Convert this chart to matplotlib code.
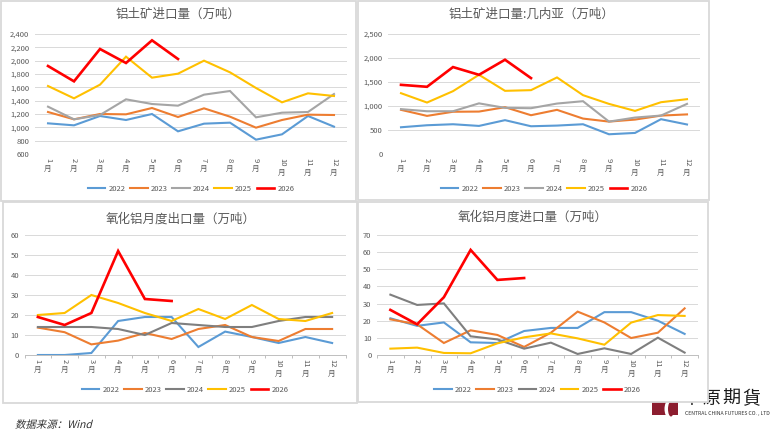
import numpy as np
import matplotlib
matplotlib.use("Agg")
import matplotlib.pyplot as plt
from matplotlib.patches import Rectangle, Polygon, Ellipse, PathPatch
from matplotlib.textpath import TextPath
from matplotlib.font_manager import FontProperties
from matplotlib.transforms import Affine2D
from matplotlib.ticker import FuncFormatter

plt.rcParams['font.family'] = ['Noto Sans CJK SC', 'DejaVu Sans']

# data
months = ["1", "2", "3", "4", "5", "6", "7", "8", "9", "10", "11", "12"]
years = ["2022", "2023", "2024", "2025", "2026"]

bauxite_2022 = [1060, 1030, 1170, 1110, 1200, 940, 1055, 1070, 815, 895, 1170, 1010]
bauxite_2023 = [1230, 1120, 1200, 1195, 1290, 1155, 1285, 1160, 995, 1110, 1190, 1185]
bauxite_2024 = [1310, 1120, 1185, 1420, 1350, 1325, 1490, 1545, 1150, 1220, 1230, 1500]
bauxite_2025 = [1620, 1435, 1640, 2060, 1745, 1805, 2000, 1825, 1590, 1375, 1510, 1470]
bauxite_2026 = [1920, 1690, 2175, 1965, 2305, 2025]

guinea_2022 = [557, 599, 620, 585, 705, 578, 592, 620, 411, 439, 725, 615]
guinea_2023 = [920, 794, 880, 884, 975, 808, 920, 738, 675, 717, 800, 825]
guinea_2024 = [935, 891, 891, 1055, 961, 954, 1051, 1100, 675, 759, 801, 1044]
guinea_2025 = [1267, 1072, 1309, 1650, 1316, 1330, 1595, 1226, 1044, 898, 1079, 1142]
guinea_2026 = [1441, 1400, 1811, 1650, 1964, 1581]

alu_exp_2022 = [0, 0, 1, 17, 19, 19, 4, 11.7, 9, 6, 9, 6]
alu_exp_2023 = [13.7, 11.4, 5.3, 7.2, 11, 8, 13, 15, 9, 7, 13, 13]
alu_exp_2024 = [14, 14, 14, 13, 10, 16, 15, 14, 14, 17, 19, 19]
alu_exp_2025 = [20, 21, 30, 26, 21, 17, 23, 18, 25, 18, 17, 21]
alu_exp_2026 = [19, 15, 21, 52, 28, 27]

alu_imp_2022 = [21.4, 17, 19, 7.4, 7, 14, 15.8, 15.8, 25, 25, 20, 12.3]
alu_imp_2023 = [20.8, 17.9, 7, 14.4, 11.7, 4.7, 13, 25.3, 19, 9.9, 13, 27.2]
alu_imp_2024 = [35.2, 29.2, 30.1, 10.9, 9.1, 3.7, 7.2, 0.6, 3.9, 0.6, 10.1, 1.4]
alu_imp_2025 = [3.7, 4.3, 1.2, 1.0, 6.8, 10.3, 12.6, 9.7, 6.0, 18.9, 23.3, 22.8]
alu_imp_2026 = [26.3, 17.9, 33.7, 61.3, 43.8, 44.9]

W, H = 774, 432
fig = plt.figure(figsize=(W / 100, H / 100), dpi=100)
fig.patch.set_facecolor("white")

txt_color = "#595959"
grid_color = "#D9D9D9"


def px_axes(x0, y0, x1, y1):
    # pixel box (top-left origin) -> figure axes
    return fig.add_axes([x0 / W, 1 - y1 / H, (x1 - x0) / W, (y1 - y0) / H])


def panel_box(x0, y0, x1, y1):
    r = Rectangle((x0 / W, 1 - y1 / H), (x1 - x0) / W, (y1 - y0) / H,
                  transform=fig.transFigure, facecolor="white",
                  edgecolor="#D9D9D9", linewidth=1.3, zorder=-1)
    fig.patches.append(r)


# logo (drawn under the panels, the first char is partly covered)
for k, ch in enumerate("中原期貨"):
    fig.text((691 + 20 * k) / W, 1 - 399 / H, ch, family=['Noto Sans CJK TC', 'DejaVu Sans'],
             fontsize=13, color="#1a1a1a", ha="center", va="center", zorder=-3)
fig.text(685 / W, 1 - 413 / H, "CENTRAL CHINA FUTURES CO. , LTD", fontsize=3.7,
         color="#333333", ha="left", va="center", zorder=-3)
logo = Polygon([(652 / W, 1 - 401 / H), (678 / W, 1 - 401 / H),
                (678 / W, 1 - 415 / H), (652 / W, 1 - 415 / H)],
               closed=True, transform=fig.transFigure, facecolor="#8C1D2F",
               edgecolor="none", zorder=-3)
fig.patches.append(logo)
cut = Ellipse((668 / W, 1 - 409 / H), 7 / W, 16 / H, transform=fig.transFigure,
              facecolor="white", edgecolor="none", zorder=-2)
fig.patches.append(cut)
cut2 = Ellipse((671 / W, 1 - 409 / H), 6 / W, 15 / H, transform=fig.transFigure,
               facecolor="#8C1D2F", edgecolor="none", zorder=-2)
fig.patches.append(cut2)

panel_box(0.5, 0.5, 356, 201)
panel_box(358, 0.5, 709, 200)
panel_box(3, 202, 357, 403)
panel_box(358, 202, 708, 402)

# source note, slanted by hand since the CJK font has no italic
src_path = TextPath((0, 0), "数据来源：Wind", size=7.5,
                    prop=FontProperties(family="Noto Sans CJK SC"))
src_tr = Affine2D().skew_deg(14, 0).scale(1 / 72).translate(15 / 100, (H - 428) / 100)
fig.patches.append(PathPatch(src_path, transform=src_tr + fig.dpi_scale_trans,
                             facecolor="#333333", edgecolor="none", lw=0))


def draw_chart(box, title, title_xy, series, gray, ylim, step, fmt, xaxis_line, legend_y):
    ax = px_axes(*box)
    ax.set_facecolor("none")
    x = np.arange(12)
    colors = ["#5B9BD5", "#ED7D31", gray, "#FFC000", "#FF0000"]
    for vals, c, yr in zip(series, colors, years):
        lw = 1.9 if yr == "2026" else 1.5
        ax.plot(x[:len(vals)], vals, color=c, lw=lw, label=yr, solid_joinstyle="miter")
    ax.set_xlim(-0.5, 11.5)
    ax.set_ylim(*ylim)
    ticks = np.arange(ylim[0], ylim[1] + step / 2, step)
    ax.set_yticks(ticks)
    ax.yaxis.set_major_formatter(FuncFormatter(fmt))
    ax.grid(axis="y", color=grid_color, lw=0.7)
    ax.set_axisbelow(True)
    for s in ax.spines.values():
        s.set_visible(False)
    ax.tick_params(axis="y", length=0, pad=4, labelsize=5.5, labelcolor=txt_color)
    if xaxis_line:
        ax.spines["bottom"].set_visible(True)
        ax.spines["bottom"].set_color("#BFBFBF")
        ax.spines["bottom"].set_linewidth(0.7)
        ax.set_xticks(np.arange(-0.5, 12, 1))
        ax.tick_params(axis="x", length=2.5, color="#BFBFBF", width=0.7)
    else:
        ax.set_xticks([])
    ax.set_xticklabels([])
    for i, m in enumerate(months):
        ax.annotate(m, (i, 0), xycoords=("data", "axes fraction"), xytext=(0, -3),
                    textcoords="offset points", rotation=-90, ha="center", va="top",
                    fontsize=5.5, color=txt_color)
        ax.annotate("月", (i, 0), xycoords=("data", "axes fraction"),
                    xytext=(0, -4.5 - 3.1 * len(m)), textcoords="offset points",
                    ha="center", va="top", fontsize=5.5, color=txt_color)
    fig.text(title_xy[0] / W, 1 - title_xy[1] / H, title, fontsize=9, color=txt_color,
             ha="center", va="center", fontweight="light")
    cx = (box[0] + box[2]) / 2
    ax.legend(loc="center", bbox_to_anchor=(cx / W, 1 - legend_y / H),
              bbox_transform=fig.transFigure, ncol=5, frameon=False, fontsize=5.5,
              handlelength=2.3, handletextpad=0.4, columnspacing=0.6, labelcolor=txt_color)
    return ax


comma = lambda v, p: f"{int(v):,}"
plain = lambda v, p: f"{int(v)}"

draw_chart((35, 34, 347, 154), "铝土矿进口量（万吨）", (178, 14),
           [bauxite_2022, bauxite_2023, bauxite_2024, bauxite_2025, bauxite_2026],
           "#A5A5A5", (600, 2400), 200, comma, False, 189)
draw_chart((388, 34, 700, 154), "铝土矿进口量:几内亚（万吨）", (532, 14),
           [guinea_2022, guinea_2023, guinea_2024, guinea_2025, guinea_2026],
           "#A5A5A5", (0, 2500), 500, comma, False, 189)
draw_chart((24.5, 235, 345.5, 355), "氧化铝月度出口量（万吨）", (181, 219),
           [alu_exp_2022, alu_exp_2023, alu_exp_2024, alu_exp_2025, alu_exp_2026],
           "#7F7F7F", (0, 60), 10, plain, True, 390)
draw_chart((377, 235, 698, 355), "氧化铝月度进口量（万吨）", (533, 217),
           [alu_imp_2022, alu_imp_2023, alu_imp_2024, alu_imp_2025, alu_imp_2026],
           "#7F7F7F", (0, 70), 10, plain, True, 390)

fig.savefig("out.png", dpi=100, facecolor="white")
